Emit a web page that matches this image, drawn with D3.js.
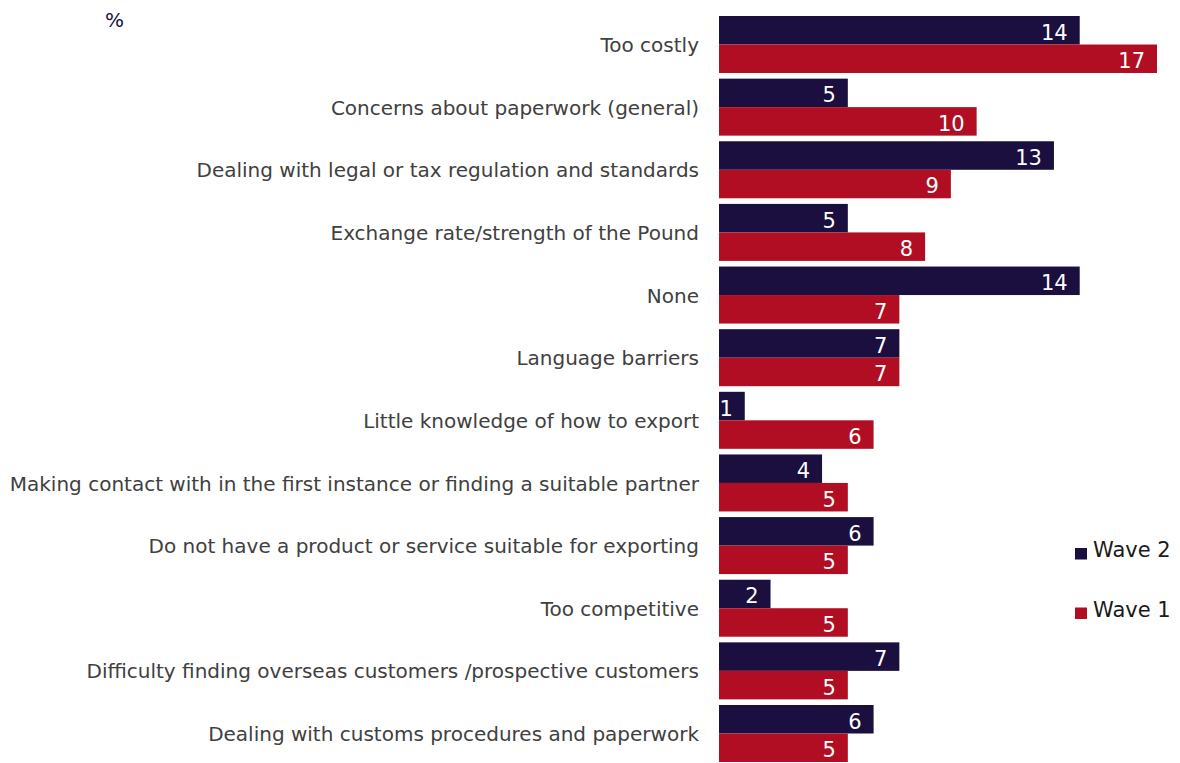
<!DOCTYPE html>
<html>
<head>
<meta charset="utf-8">
<script src="https://cdn.jsdelivr.net/npm/d3@7"></script>
<style>
  html, body { margin: 0; padding: 0; background: #ffffff; }
  svg { display: block; }
</style>
</head>
<body>
<script>
// Barriers to exporting, % of respondents, two survey waves
const categories = [
  "Too costly",
  "Concerns about paperwork (general)",
  "Dealing with legal or tax regulation and standards",
  "Exchange rate/strength of the Pound",
  "None",
  "Language barriers",
  "Little knowledge of how to export",
  "Making contact with in the first instance or finding a suitable partner",
  "Do not have a product or service suitable for exporting",
  "Too competitive",
  "Difficulty finding overseas customers /prospective customers",
  "Dealing with customs procedures and paperwork"
];
const wave2 = [14, 5, 13, 5, 14, 7, 1, 4, 6, 2, 7, 6];
const wave1 = [17, 10, 9, 8, 7, 7, 6, 5, 5, 5, 5, 5];
const seriesNames = ["Wave 2", "Wave 1"];
const seriesColors = ["#1a0f3f", "#b10e23"];

const W = 1180, H = 763;
const svg = d3.select("body").append("svg").attr("width", W).attr("height", H);

const rows = categories.map((c, i) => ({ cat: c, values: [wave2[i], wave1[i]] }));

const x = d3.scaleLinear().domain([0, 17]).range([719, 1157]);
const y0 = d3.scaleBand().domain(categories).range([16, 762]).paddingInner(0.09).paddingOuter(0);
const y1 = d3.scaleBand().domain(seriesNames).range([0, y0.bandwidth()]);

const font = "'DejaVu Sans', Verdana, sans-serif";

// Category labels
svg.append("g").selectAll("text").data(rows).join("text")
  .attr("x", 699)
  .attr("y", d => y0(d.cat) + y0.bandwidth() / 2)
  .attr("dy", "0.38em")
  .attr("text-anchor", "end")
  .attr("font-family", font)
  .attr("font-size", 20)
  .attr("fill", "#404040")
  .text(d => d.cat);

// Bars and values
const groups = svg.append("g").selectAll("g").data(rows).join("g")
  .attr("transform", d => `translate(0,${y0(d.cat)})`);

const cells = groups.selectAll("g").data(d => d.values.map((v, j) => ({ v, s: seriesNames[j], c: seriesColors[j] })))
  .join("g");

cells.append("rect")
  .attr("x", x(0))
  .attr("y", d => y1(d.s))
  .attr("width", d => x(d.v) - x(0))
  .attr("height", y1.bandwidth())
  .attr("fill", d => d.c);

cells.append("text")
  .attr("x", d => x(d.v) - 12)
  .attr("y", d => y1(d.s) + y1.bandwidth() / 2)
  .attr("dy", "0.45em")
  .attr("text-anchor", "end")
  .attr("font-family", font)
  .attr("font-size", 21)
  .attr("fill", "#ffffff")
  .text(d => d3.format("d")(d.v));

// Unit label
svg.append("text")
  .attr("x", 105).attr("y", 27)
  .attr("font-family", font)
  .attr("font-size", 20)
  .attr("fill", "#1a0f3f")
  .text("%");

// Legend
const legend = svg.append("g").selectAll("g").data(seriesNames).join("g")
  .attr("transform", (d, i) => `translate(1075,${549.5 + i * 59.5})`);
legend.append("rect")
  .attr("x", 0).attr("y", -1.5).attr("width", 12).attr("height", 11.5)
  .attr("fill", (d, i) => seriesColors[i]);
legend.append("text")
  .attr("x", 18).attr("y", 0).attr("dy", "0.36em")
  .attr("font-family", font)
  .attr("font-size", 21)
  .attr("fill", "#1a1a1a")
  .text(d => d);
</script>
</body>
</html>
